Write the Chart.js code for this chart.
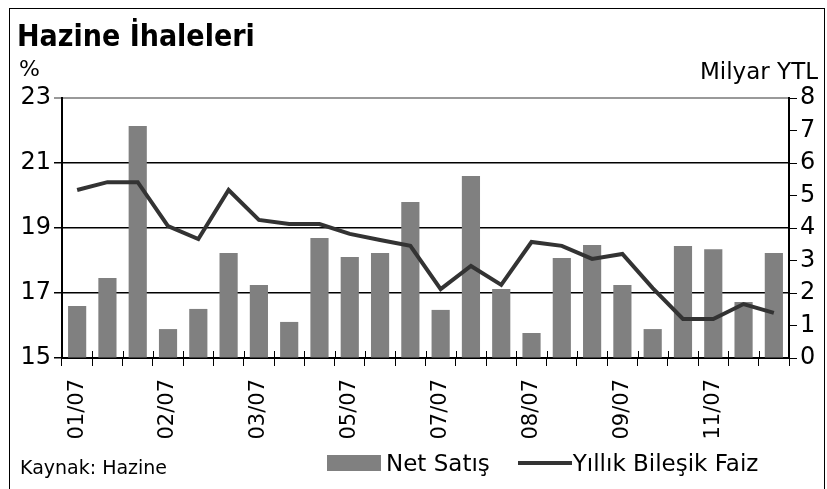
<!DOCTYPE html>
<html>
<head>
<meta charset="utf-8">
<script src="https://cdn.jsdelivr.net/npm/chart.js@4/dist/chart.umd.min.js"></script>
<style>
  body { margin: 0; background: #fff; }
  #wrap { position: relative; width: 827px; height: 489px; overflow: hidden; font-family: "DejaVu Sans", sans-serif; color: #000; }
  #frame { position: absolute; left: 9px; top: 8px; width: 816px; height: 490px; border: 1px solid #000; box-sizing: border-box; }
  canvas { position: absolute; left: 0; top: 0; }
  .txt { position: absolute; white-space: nowrap; }
  #title { left: 17px; top: 18px; font-size: 30px; font-weight: bold; font-family: "DejaVu Sans Condensed", "DejaVu Sans", sans-serif; }
  #pct { left: 19px; top: 56px; font-size: 22px; }
  #unit { right: 9px; top: 58px; font-size: 23px; }
  #src { left: 20px; top: 456px; font-size: 19px; }
  #legend { position: absolute; left: 327px; top: 450px; font-size: 23px; display: flex; align-items: center; }
  .sw { display: inline-block; }
</style>
</head>
<body>
<div id="wrap">
  <div id="frame"></div>
  <canvas id="myChart" width="827" height="489"></canvas>
  <div class="txt" id="title">Hazine İhaleleri</div>
  <div class="txt" id="pct">%</div>
  <div class="txt" id="unit">Milyar YTL</div>
  <div class="txt" id="src">Kaynak: Hazine</div>
  <div id="legend"></div>
</div>
<script>
const tickLabels = ["01/07", "", "", "02/07", "", "", "03/07", "", "", "05/07", "", "", "07/07", "", "", "08/07", "", "", "09/07", "", "", "11/07", "", ""];
const netSatis = [1.6, 2.46, 7.14, 0.89, 1.51, 3.23, 2.25, 1.11, 3.69, 3.11, 3.23, 4.8, 1.48, 5.6, 2.12, 0.77, 3.08, 3.48, 2.25, 0.89, 3.45, 3.35, 1.72, 3.23];
const faiz = [20.17, 20.41, 20.41, 19.06, 18.66, 20.17, 19.25, 19.12, 19.12, 18.82, 18.63, 18.45, 17.12, 17.83, 17.25, 18.57, 18.45, 18.05, 18.2, 17.15, 16.2, 16.2, 16.66, 16.39];

const barColor = "#808080";
const lineColor = "#333333";
const fontFamily = '"DejaVu Sans", sans-serif';

// x axis ticks in the reference cross the axis line, draw the upper half here
const crossTicks = {
  id: "crossTicks",
  afterDraw(chart) {
    const ctx = chart.ctx;
    const x = chart.scales.x;
    const bottom = chart.chartArea.bottom;
    const n = chart.data.labels.length;
    ctx.save();
    ctx.strokeStyle = "#000";
    ctx.lineWidth = 1;
    for (let i = 0; i <= n; i++) {
      const px = Math.round(x.getPixelForValue(i - 0.5)) + 0.5;
      ctx.beginPath();
      ctx.moveTo(px, bottom - 7);
      ctx.lineTo(px, bottom);
      ctx.stroke();
    }
    ctx.restore();
  },
};

const chartData = {
  labels: tickLabels,
  datasets: [
    {
      type: "line",
      label: "Yıllık Bileşik Faiz",
      data: faiz,
      borderColor: lineColor,
      borderWidth: 4,
      pointRadius: 0,
      tension: 0,
      yAxisID: "yLeft",
      order: 0,
    },
    {
      type: "bar",
      label: "Net Satış",
      data: netSatis,
      backgroundColor: barColor,
      barPercentage: 0.6,
      categoryPercentage: 1,
      yAxisID: "yRight",
      order: 1,
    },
  ],
};

const config = {
  type: "bar",
  data: chartData,
  plugins: [crossTicks],
  options: {
    responsive: false,
    animation: false,
    layout: { padding: { top: 98, left: 0, right: 0, bottom: 0 } },
    plugins: { legend: { display: false }, tooltip: { enabled: false } },
    scales: {
      x: {
        offset: true,
        afterFit: (s) => { s.height = 131; },
        border: { color: "#000", width: 2 },
        grid: { offset: true, drawOnChartArea: false, color: "#000", tickLength: 8, lineWidth: 1 },
        ticks: {
          autoSkip: false, maxRotation: 90, minRotation: 90, padding: 13,
          color: "#000", font: { family: fontFamily, size: 21 },
        },
      },
      yLeft: {
        position: "left",
        min: 15, max: 23,
        afterFit: (s) => { s.width = 62; },
        border: { color: "#000", width: 2 },
        grid: {
          color: (c) => (c.tick && c.tick.value === 23 ? "#999" : "#000"),
          lineWidth: (c) => (c.tick && c.tick.value === 23 ? 2 : 1.5),
          tickLength: 8,
        },
        ticks: { stepSize: 2, padding: 3, color: "#000", font: { family: fontFamily, size: 24 } },
      },
      yRight: {
        position: "right",
        min: 0, max: 8,
        afterFit: (s) => { s.width = 38; },
        border: { color: "#000", width: 2 },
        grid: { drawOnChartArea: false, color: "#000", tickLength: 8 },
        ticks: { stepSize: 1, padding: 3, color: "#000", font: { family: fontFamily, size: 24 } },
      },
    },
  },
};

const myChart = new Chart(document.getElementById("myChart"), config);

// legend in html, built from the datasets
const legend = document.getElementById("legend");
const barDs = chartData.datasets[1];
const lineDs = chartData.datasets[0];
legend.innerHTML =
  `<span class="sw" style="width:54px;height:16px;background:${barDs.backgroundColor};margin-right:5px"></span>` +
  `<span>${barDs.label}</span>` +
  `<span class="sw" style="width:54px;height:4px;background:${lineDs.borderColor};margin-left:28px;margin-right:1px"></span>` +
  `<span>${lineDs.label}</span>`;
</script>
</body>
</html>
